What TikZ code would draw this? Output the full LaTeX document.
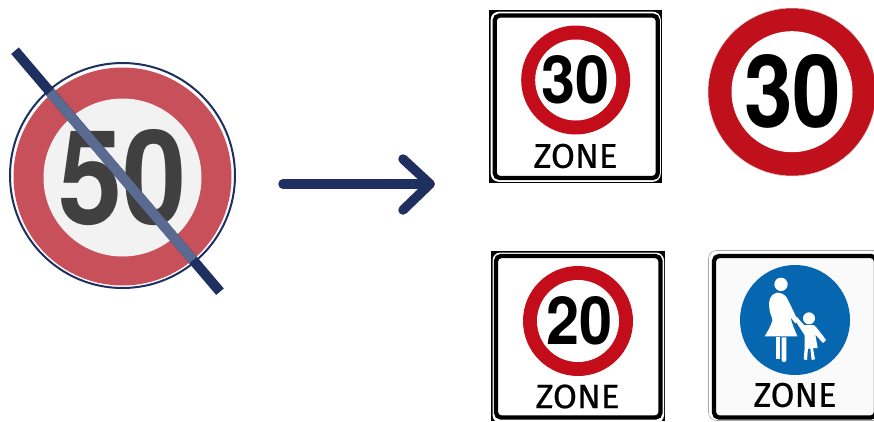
\documentclass[tikz,border=0pt]{standalone}
\usepackage{graphicx}
\usepackage{fontspec}
\setmainfont{TeX Gyre Heros}
\newfontfamily\zonefont[FakeBold=0.6]{Fira Sans}
\newcommand{\digs}[3]{\resizebox{#1pt}{#2pt}{\textbf{#3}}}
\newcommand{\zoneword}[2]{\resizebox{#1pt}{#2pt}{\zonefont ZONE}}
\definecolor{navyc}{HTML}{1F2F60}
\definecolor{slashc}{HTML}{5A6A90}
\definecolor{redold}{HTML}{C8505A}
\definecolor{redsign}{HTML}{C30D1A}
\definecolor{redbig}{HTML}{C0101C}
\definecolor{offwhite}{HTML}{F2F2F2}
\definecolor{darkdig}{HTML}{404040}
\definecolor{bluesign}{HTML}{0667B0}
\tikzset{
  txt/.style={inner sep=0pt,outer sep=0pt},
  signframe/.style={draw=black,line width=4.3pt,fill=white,rounded corners=5pt},
  ped/.style={fill=white,draw=none},
  linkline/.style={draw=navyc,line width=9.5pt,line cap=round,line join=round}
}
\begin{document}
\begin{tikzpicture}[x=1pt,y=-1pt]
\useasboundingbox (0,0) rectangle (874,421);
\fill[white] (0,0) rectangle (874,421);
% struck-out 50 sign
\draw[navyc,line width=2pt,fill=white] (122.5,175.5) circle (112.5);
\fill[redold] (122.5,176.5) circle (109);
\fill[offwhite] (122.5,177.5) circle (79);
\node[txt,text=darkdig] (fifty) at (122.5,177.5) {\digs{128}{95}{50}};
\coordinate (slashA) at (15,50.7);
\coordinate (slashB) at (220,291.7);
\coordinate (slashC) at (50,92);
\coordinate (slashD) at (193,260);
\draw[navyc,line width=10pt] (slashA) -- (slashB);
\draw[slashc,line width=10pt] (slashC) -- (slashD);
% arrow
\coordinate (arrowS) at (283,184);
\coordinate (arrowE) at (430,184);
\coordinate (headA) at (403,159);
\coordinate (headB) at (403,210);
\draw[linkline] (arrowS) -- (arrowE);
\draw[linkline] (headA) -- (arrowE) -- (headB);
% 30 zone
\fill[black] (489,10) rectangle (662,183);
\fill[white,rounded corners=8pt] (490.7,11.7) rectangle (660.8,181.8);
\draw[signframe] (494.7,15.5) rectangle (657.8,178);
\fill[redsign] (575.7,80) circle (54.5);
\fill[white] (575.7,80) circle (40.5);
\node[txt] (d30a) at (575.7,80) {\digs{68}{48}{30}};
\node[txt] (z30) at (575.5,156) {\zoneword{84}{24}};
% round 30
\draw[black!15,line width=0.5pt,fill=redbig] (792,92) circle (84);
\fill[white] (792,91.7) circle (60.5);
\node[txt] (d30b) at (792.5,91.5) {\digs{97}{73}{30}};
% 20 zone
\fill[black] (491,251) rectangle (665,421);
\fill[white,rounded corners=8pt] (492.5,252.5) rectangle (664,423);
\draw[signframe] (496,256) rectangle (660.5,417.5);
\fill[redsign] (578,321) circle (55);
\fill[white] (578,321) circle (41);
\node[txt] (d20) at (579.5,321) {\digs{66}{48}{20}};
\node[txt] (z20) at (577.5,396.5) {\zoneword{84}{23.5}};
% pedestrian zone
\draw[black!35,line width=0.6pt,fill=white,rounded corners=8pt] (708.5,250.5) rectangle (885,420.5);
\draw[signframe,fill=black!2] (714,256) rectangle (876,417.5);
\fill[bluesign] (795,320) circle (55);
\begin{scope}[shift={(730,260)},x=0.333333pt,y=-0.333333pt]
  \fill[ped] (153,73) circle (20);
  \fill[ped] (140,98) .. controls (120,102) and (114,125) .. (118,145)
     .. controls (120,165) and (128,172) .. (127,182)
     .. controls (122,200) and (112,215) .. (104,229) -- (202,229)
     .. controls (195,210) and (186,195) .. (182,172)
     -- (196,190) -- (204,182) -- (172,116) .. controls (166,104) and (155,98) .. (140,98) -- cycle;
  \fill[ped] (137,232) -- (151,232) -- (151,298) -- (137,298) -- cycle;
  \fill[ped] (155,232) -- (169,232) -- (169,300) .. controls (169,308) and (155,308) .. (155,300) -- cycle;
  \fill[ped] (237,175) circle (18);
  \fill[ped] (192,176) -- (200,170) -- (222,195) -- (252,195)
     .. controls (262,205) and (275,222) .. (288,240) -- (279,249) -- (256,224)
     -- (263,264) -- (249,264) -- (255,298) -- (245,300) -- (241,266) -- (234,266)
     -- (231,300) -- (221,298) -- (224,264) -- (224,226) -- cycle;
\end{scope}
\node[txt] (zped) at (795,395) {\zoneword{83}{24}};
\end{tikzpicture}
\end{document}
